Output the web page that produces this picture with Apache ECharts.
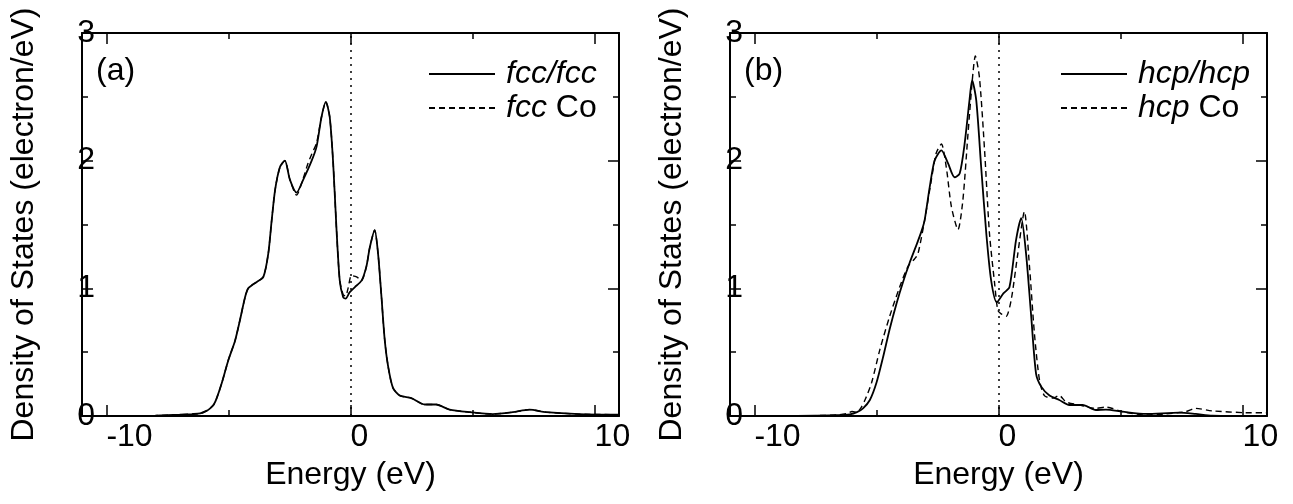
<!DOCTYPE html>
<html>
<head>
<meta charset="utf-8">
<script src="https://cdn.jsdelivr.net/npm/echarts@6/dist/echarts.min.js"></script>
<style>
html,body{margin:0;padding:0;background:#fff;}
#chart{width:1293px;height:504px;}
</style>
</head>
<body>
<div id="chart"></div>
<script>
// ---------- data ----------
const fccEnergy = [-11,-9,-8,-7,-6.5,-6.16,-5.9,-5.75,-5.6,-5.48,-5.27,-5.0,-4.73,-4.53,-4.32,-4.19,-4.0,-3.84,-3.57,-3.37,-3.23,-3.09,-2.89,-2.69,-2.48,-2.21,-1.94,-1.59,-1.39,-1.19,-1.01,-0.85,-0.71,-0.57,-0.44,-0.3,-0.2,-0.03,0.18,0.45,0.65,0.79,0.99,1.13,1.27,1.4,1.54,1.74,2.02,2.49,3.04,3.51,4.06,4.88,5.83,6.65,7.33,8.01,9.37,11];
const fccFccDos = [0,0,0.003,0.01,0.015,0.02,0.04,0.06,0.09,0.14,0.26,0.44,0.59,0.75,0.93,1.0,1.03,1.05,1.09,1.27,1.53,1.77,1.95,2.0,1.85,1.75,1.85,2.0,2.11,2.34,2.46,2.34,1.98,1.45,1.06,0.93,0.92,0.97,1.01,1.06,1.17,1.32,1.455,1.27,0.93,0.6,0.39,0.22,0.16,0.14,0.09,0.09,0.05,0.03,0.015,0.03,0.05,0.03,0.015,0.01];

const fccCoEnergy = [-11,-9,-8,-7,-6.5,-6.16,-5.9,-5.75,-5.6,-5.48,-5.27,-5.0,-4.73,-4.53,-4.32,-4.19,-4.0,-3.84,-3.57,-3.37,-3.23,-3.09,-2.89,-2.69,-2.48,-2.21,-1.94,-1.74,-1.59,-1.39,-1.19,-1.01,-0.85,-0.71,-0.57,-0.44,-0.3,-0.2,-0.1,0.04,0.25,0.45,0.65,0.79,0.99,1.13,1.27,1.4,1.54,1.74,2.02,2.49,3.04,3.51,4.06,4.88,5.83,6.65,7.33,8.01,9.37,11];
const fccCoDos = [0,0,0.003,0.01,0.015,0.02,0.04,0.06,0.09,0.14,0.26,0.44,0.59,0.75,0.93,1.0,1.03,1.05,1.09,1.27,1.53,1.77,1.95,2.0,1.85,1.73,1.86,1.98,2.05,2.14,2.34,2.46,2.34,1.98,1.45,1.06,0.95,0.94,1.0,1.1,1.09,1.06,1.17,1.32,1.455,1.27,0.93,0.6,0.39,0.22,0.16,0.14,0.09,0.09,0.05,0.03,0.015,0.03,0.05,0.03,0.015,0.01];

const hcpEnergy = [-11,-9,-7.5,-6.65,-6.09,-5.8,-5.55,-5.27,-5.0,-4.73,-4.46,-4.18,-3.91,-3.64,-3.36,-3.15,-3.03,-2.82,-2.62,-2.34,-2.07,-1.8,-1.59,-1.39,-1.19,-1.08,-0.91,-0.71,-0.5,-0.3,-0.07,0.2,0.45,0.72,0.93,1.13,1.34,1.54,1.75,2.09,2.49,2.9,3.45,3.99,4.4,5.08,6.04,7.4,8.08,8.76,11];
const hcpHcpDos = [0,0,0.003,0.006,0.013,0.03,0.06,0.125,0.26,0.46,0.68,0.88,1.05,1.2,1.34,1.45,1.53,1.79,2.0,2.08,1.98,1.87,1.9,2.13,2.47,2.63,2.47,1.95,1.43,1.06,0.89,0.96,1.01,1.38,1.55,1.27,0.78,0.33,0.23,0.16,0.125,0.086,0.086,0.047,0.05,0.034,0.016,0.026,0.016,0.003,0];

const hcpCoEnergy = [-11,-9,-7.5,-6.6,-6.2,-6.0,-5.8,-5.65,-5.47,-5.2,-4.86,-4.46,-4.05,-3.71,-3.44,-3.3,-3.03,-2.75,-2.55,-2.34,-2.14,-1.93,-1.66,-1.46,-1.25,-1.05,-0.95,-0.78,-0.57,-0.37,-0.16,-0.03,0.11,0.31,0.52,0.79,1.06,1.27,1.47,1.68,1.88,2.22,2.49,2.77,3.31,3.99,4.4,5.08,6.04,6.86,7.67,8.08,8.76,10.12,11];
const hcpCoDos = [0,0,0.003,0.008,0.02,0.035,0.03,0.06,0.125,0.26,0.52,0.78,1.01,1.17,1.23,1.27,1.53,1.85,2.06,2.13,1.95,1.64,1.46,1.69,2.21,2.68,2.82,2.65,2.08,1.43,1.04,0.83,0.8,0.78,0.91,1.27,1.6,1.17,0.65,0.28,0.16,0.14,0.16,0.11,0.086,0.06,0.07,0.034,0.008,0.016,0.034,0.06,0.04,0.026,0.025];

const xMajorTicks = [-10, 0, 10];
const xMinorTicks = [-5, 5];
const fermiLevel = 0;
const panelLabels = ['(a)', '(b)'];
const seriesNames = ['fcc/fcc', 'fcc Co', 'hcp/hcp', 'hcp Co'];

// ---------- chart ----------
const FONT = "'Liberation Sans', Arial, Helvetica, sans-serif";
const BLACK = '#000';
const zip = (xs, ys) => xs.map((x, i) => [x, ys[i]]);

const grids = [
  {left: 82, top: 33, width: 537, height: 383},
  {left: 730, top: 33, width: 537, height: 383}
];

function xAxes(gi) {
  const base = {gridIndex: gi, type: 'value', min: -11, max: 11, splitLine: {show: false}};
  return [
    Object.assign({}, base, {
      position: 'bottom',
      axisLine: {show: true, onZero: false, lineStyle: {color: BLACK, width: 2}},
      axisTick: {show: true, inside: true, length: 11, customValues: xMajorTicks, lineStyle: {color: BLACK, width: 1.5}},
      axisLabel: {show: true, customValues: xMajorTicks, align: 'left', margin: 5, fontSize: 32, color: BLACK, fontFamily: FONT},
      name: 'Energy (eV)', nameLocation: 'middle', nameGap: 43,
      nameTextStyle: {fontSize: 32, color: BLACK, fontFamily: FONT}
    }),
    Object.assign({}, base, {
      position: 'bottom',
      axisLine: {show: false, onZero: false},
      axisTick: {show: true, inside: true, length: 6, customValues: xMinorTicks, lineStyle: {color: BLACK, width: 1.5}},
      axisLabel: {show: false}
    }),
    Object.assign({}, base, {
      position: 'top',
      axisLine: {show: true, onZero: false, lineStyle: {color: BLACK, width: 2}},
      axisTick: {show: true, inside: true, length: 11, customValues: xMajorTicks, lineStyle: {color: BLACK, width: 1.5}},
      axisLabel: {show: false}
    }),
    Object.assign({}, base, {
      position: 'top',
      axisLine: {show: false, onZero: false},
      axisTick: {show: true, inside: true, length: 6, customValues: xMinorTicks, lineStyle: {color: BLACK, width: 1.5}},
      axisLabel: {show: false}
    })
  ];
}

function yAxes(gi) {
  const base = {
    gridIndex: gi, type: 'value', min: 0, max: 3, interval: 1, splitLine: {show: false},
    axisLine: {show: true, onZero: false, lineStyle: {color: BLACK, width: 2}},
    axisTick: {show: true, inside: true, length: 11, lineStyle: {color: BLACK, width: 1.5}},
    minorTick: {show: true, splitNumber: 2, length: 6, lineStyle: {color: BLACK, width: 1.5}}
  };
  return [
    Object.assign({}, base, {
      position: 'left',
      axisLabel: {show: true, margin: -13, fontSize: 32, color: BLACK, fontFamily: FONT},
      name: 'Density of States (electron/eV)', nameLocation: 'middle', nameGap: 42, nameRotate: 90,
      nameTextStyle: {fontSize: 32, color: BLACK, fontFamily: FONT}
    }),
    Object.assign({}, base, {position: 'right', axisLabel: {show: false}})
  ];
}

function lineSeries(name, data, xi, yi, dashed, withFermi) {
  const s = {
    name: name, type: 'line', xAxisIndex: xi, yAxisIndex: yi, data: data,
    symbol: 'none', showSymbol: false, smooth: 0.25,
    lineStyle: dashed ? {color: BLACK, width: 1.4, type: [6, 4]} : {color: BLACK, width: 1.8, type: 'solid'},
    itemStyle: {color: BLACK},
    z: dashed ? 2 : 3,
    animation: false
  };
  if (withFermi) {
    s.markLine = {
      silent: true, symbol: ['none', 'none'], label: {show: false},
      lineStyle: {color: BLACK, width: 1.5, type: [2, 5]},
      data: [{xAxis: fermiLevel}]
    };
  }
  return s;
}

function legendFormatter(name) {
  const parts = name.split(' ');
  if (parts.length === 1) return '{i|' + name + '}';
  return '{i|' + parts[0] + '} ' + parts.slice(1).join(' ');
}

function legend(left, names) {
  return {
    data: names, orient: 'vertical', left: left, top: 58, padding: 0,
    itemWidth: 66, itemHeight: 14, itemGap: 2,
    selectedMode: false,
    itemStyle: {opacity: 0},
    formatter: legendFormatter,
    textStyle: {
      fontSize: 32, color: BLACK, fontFamily: FONT, lineHeight: 32, padding: [0, 0, 0, 6],
      rich: {i: {fontSize: 32, fontStyle: 'italic', color: BLACK, fontFamily: FONT, lineHeight: 32}}
    }
  };
}

const option = {
  backgroundColor: '#fff',
  animation: false,
  title: [
    {text: panelLabels[0], left: 96, top: 55, padding: 0, textStyle: {fontSize: 32, fontWeight: 'normal', color: BLACK, fontFamily: FONT}},
    {text: panelLabels[1], left: 744, top: 55, padding: 0, textStyle: {fontSize: 32, fontWeight: 'normal', color: BLACK, fontFamily: FONT}}
  ],
  legend: [legend(428, [seriesNames[0], seriesNames[1]]), legend(1060, [seriesNames[2], seriesNames[3]])],
  grid: grids,
  xAxis: xAxes(0).concat(xAxes(1)),
  yAxis: yAxes(0).concat(yAxes(1)),
  series: [
    lineSeries(seriesNames[1], zip(fccCoEnergy, fccCoDos), 0, 0, true, false),
    lineSeries(seriesNames[0], zip(fccEnergy, fccFccDos), 0, 0, false, true),
    lineSeries(seriesNames[3], zip(hcpCoEnergy, hcpCoDos), 4, 2, true, false),
    lineSeries(seriesNames[2], zip(hcpEnergy, hcpHcpDos), 4, 2, false, true)
  ]
};

const chart = echarts.init(document.getElementById('chart'), null, {renderer: 'canvas'});
chart.setOption(option);
</script>
</body>
</html>
